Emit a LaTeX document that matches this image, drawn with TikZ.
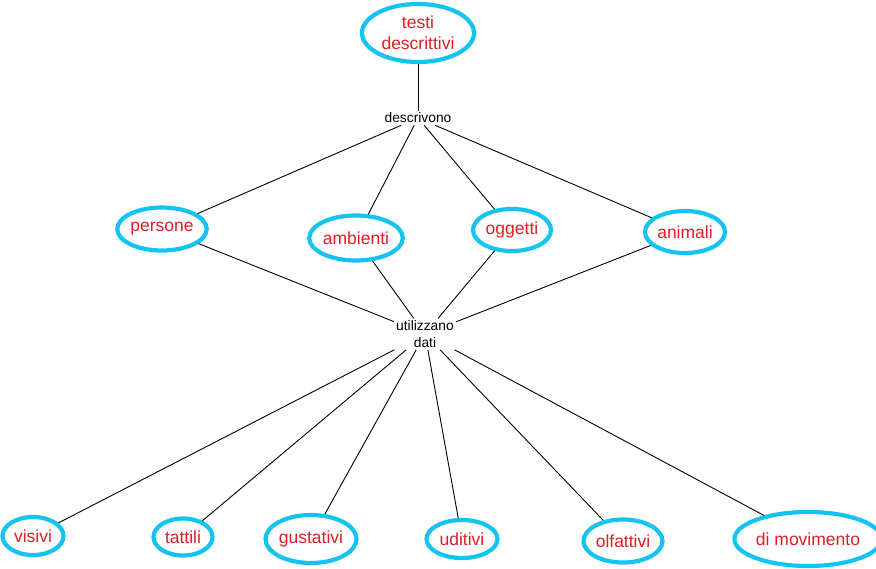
\documentclass[tikz,border=0pt]{standalone}
\usepackage{fontspec}
\setmainfont{Liberation Sans}
\usetikzlibrary{shapes.geometric}
\definecolor{ringblue}{RGB}{20,196,240}
\definecolor{txtred}{RGB}{222,30,36}
\begin{document}
\begin{tikzpicture}[x=1pt,y=-1pt,
  oval/.style={ellipse,draw=ringblue,line width=4.2pt,inner sep=0pt,
     text=txtred,font=\fontsize{17.5}{21}\selectfont,align=center},
  lbl/.style={inner sep=2pt,font=\fontsize{13.8}{17}\selectfont,align=center,text=black},
  link/.style={draw=black,line width=0.9pt}]
\useasboundingbox (0,0) rectangle (876,568);
\node[oval,minimum width=112pt,minimum height=58pt] (testi) at (418,33) {testi\\descrittivi};
\node[lbl] (descr) at (418,118) {descrivono};
\node[oval,minimum width=87pt,minimum height=43pt] (pers) at (162,229) {persone};
\node[oval,minimum width=89pt,minimum height=45pt] (amb) at (356,238) {ambienti};
\node[oval,minimum width=78pt,minimum height=42pt] (ogg) at (512,230) {oggetti};
\node[oval,minimum width=80pt,minimum height=42pt] (anim) at (685,232) {animali};
\node[lbl] (util) at (425,334) {utilizzano\\dati};
\node[oval,minimum width=61pt,minimum height=38pt] (vis) at (33,536) {visivi};
\node[oval,minimum width=59pt,minimum height=37pt] (tat) at (183,537) {tattili};
\node[oval,minimum width=91pt,minimum height=48pt] (gus) at (311,539) {gustativi};
\node[oval,minimum width=71pt,minimum height=38pt] (udi) at (462,539) {uditivi};
\node[oval,minimum width=79pt,minimum height=43pt] (olf) at (623,541) {olfattivi};
\node[oval,minimum width=129pt,minimum height=54pt] (mov) at (808,539) {di movimento};
\draw[link] (testi) -- (descr);
\foreach \n in {pers,amb,ogg,anim}{
  \draw[link] (descr) -- (\n);
  \draw[link] (\n) -- (util);
}
\foreach \n in {vis,tat,gus,udi,olf,mov}{
  \draw[link] (util) -- (\n);
}
\end{tikzpicture}
\end{document}
